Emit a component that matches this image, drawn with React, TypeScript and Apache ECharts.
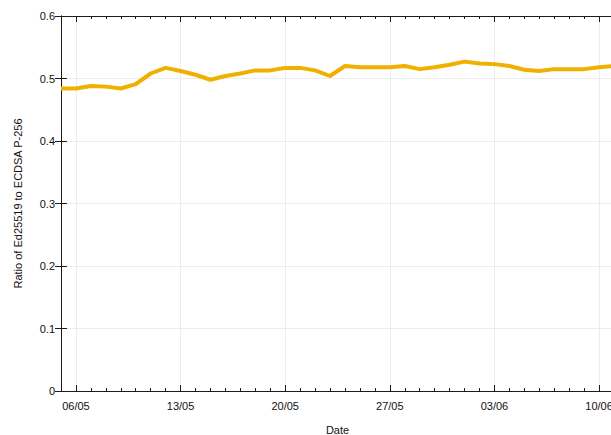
import React, { useEffect, useRef } from 'react';
import * as echarts from 'echarts';

const dates = [
  '05/05', '06/05', '07/05', '08/05', '09/05', '10/05', '11/05', '12/05', '13/05', '14/05',
  '15/05', '16/05', '17/05', '18/05', '19/05', '20/05', '21/05', '22/05', '23/05', '24/05',
  '25/05', '26/05', '27/05', '28/05', '29/05', '30/05', '31/05', '01/06', '02/06', '03/06',
  '04/06', '05/06', '06/06', '07/06', '08/06', '09/06', '10/06', '11/06',
];

const ratios = [
  0.484, 0.484, 0.488, 0.487, 0.484, 0.491, 0.508, 0.517, 0.512, 0.506,
  0.498, 0.504, 0.508, 0.513, 0.513, 0.517, 0.517, 0.513, 0.504, 0.520,
  0.518, 0.518, 0.518, 0.520, 0.515, 0.518, 0.522, 0.527, 0.524, 0.523,
  0.520, 0.514, 0.512, 0.515, 0.515, 0.515, 0.518, 0.520,
];

const majorTickDates = ['06/05', '13/05', '20/05', '27/05', '03/06', '10/06'];

const yMin = 0;
const yMax = 0.6;
const yStep = 0.1;

const FONT = '"Liberation Sans", Arial, Helvetica, sans-serif';
const AXIS_COLOR = '#1a1a1a';
const GRID_COLOR = '#ececec';
const LINE_COLOR = '#f0b000';

export default function App() {
  const ref = useRef<HTMLDivElement>(null);

  useEffect(() => {
    if (!ref.current) return;
    const chart = echarts.init(ref.current, null, { renderer: 'svg' });
    const majorDays = majorTickDates.map((d) => dates.indexOf(d));
    const xMax = dates.length - 1;
    const data = ratios.map((v, i) => [i, v]);

    const majorAxis = (position: 'bottom' | 'top', labels: boolean) => ({
      type: 'value',
      position,
      min: 0,
      max: xMax,
      axisLine: { show: true, lineStyle: { color: AXIS_COLOR, width: 1 } },
      axisTick: {
        show: true,
        inside: true,
        length: 6,
        customValues: majorDays,
        lineStyle: { color: AXIS_COLOR, width: 1 },
      },
      axisLabel: labels
        ? {
            show: true,
            customValues: majorDays,
            formatter: (v: number) => dates[Math.round(v)] ?? '',
            color: '#111',
            fontSize: 11,
            fontFamily: FONT,
            margin: 9,
          }
        : { show: false, customValues: majorDays },
      splitLine: labels
        ? { show: true, lineStyle: { color: GRID_COLOR, width: 1 } }
        : { show: false },
      ...(labels
        ? {
            name: 'Date',
            nameLocation: 'middle',
            nameGap: 33,
            nameTextStyle: { color: '#111', fontSize: 11, fontFamily: FONT },
          }
        : {}),
    });

    const minorAxis = (position: 'bottom' | 'top') => ({
      type: 'value',
      position,
      min: 0,
      max: xMax,
      interval: 1,
      axisLine: { show: false },
      axisTick: { show: true, inside: true, length: 3, lineStyle: { color: AXIS_COLOR, width: 1 } },
      axisLabel: { show: false },
      splitLine: { show: false },
    });

    chart.setOption({
      animation: false,
      backgroundColor: '#ffffff',
      grid: {
        left: 61,
        right: -3,
        top: 16,
        bottom: 44,
        containLabel: false,
        outerBoundsMode: 'none',
      },
      xAxis: [
        majorAxis('bottom', true),
        minorAxis('bottom'),
        majorAxis('top', false),
        minorAxis('top'),
      ],
      yAxis: [
        {
          type: 'value',
          position: 'left',
          min: yMin,
          max: yMax,
          interval: yStep,
          axisLine: { show: true, lineStyle: { color: AXIS_COLOR, width: 1 } },
          axisTick: { show: true, inside: true, length: 6, lineStyle: { color: AXIS_COLOR } },
          axisLabel: {
            color: '#111',
            fontSize: 11,
            fontFamily: FONT,
            margin: 6,
            formatter: (v: number) => String(Math.round(v * 10) / 10),
          },
          splitLine: { show: true, lineStyle: { color: GRID_COLOR, width: 1 } },
          name: 'Ratio of Ed25519 to ECDSA P-256',
          nameLocation: 'middle',
          nameGap: 38,
          nameRotate: 90,
          nameTextStyle: { color: '#111', fontSize: 11, fontFamily: FONT },
        },
        {
          type: 'value',
          position: 'right',
          min: yMin,
          max: yMax,
          interval: yStep,
          axisLine: { show: true, lineStyle: { color: AXIS_COLOR, width: 1 } },
          axisTick: { show: true, inside: true, length: 6, lineStyle: { color: AXIS_COLOR } },
          axisLabel: { show: false },
          splitLine: { show: false },
        },
      ],
      series: [
        {
          type: 'line',
          xAxisIndex: 0,
          yAxisIndex: 0,
          data,
          showSymbol: false,
          symbol: 'none',
          lineStyle: { color: LINE_COLOR, width: 4, join: 'round' },
          itemStyle: { color: LINE_COLOR },
        },
      ],
    });

    return () => chart.dispose();
  }, []);

  return (
    <div
      ref={ref}
      style={{ position: 'fixed', left: 0, top: 0, width: 611, height: 435, background: '#fff' }}
    />
  );
}
